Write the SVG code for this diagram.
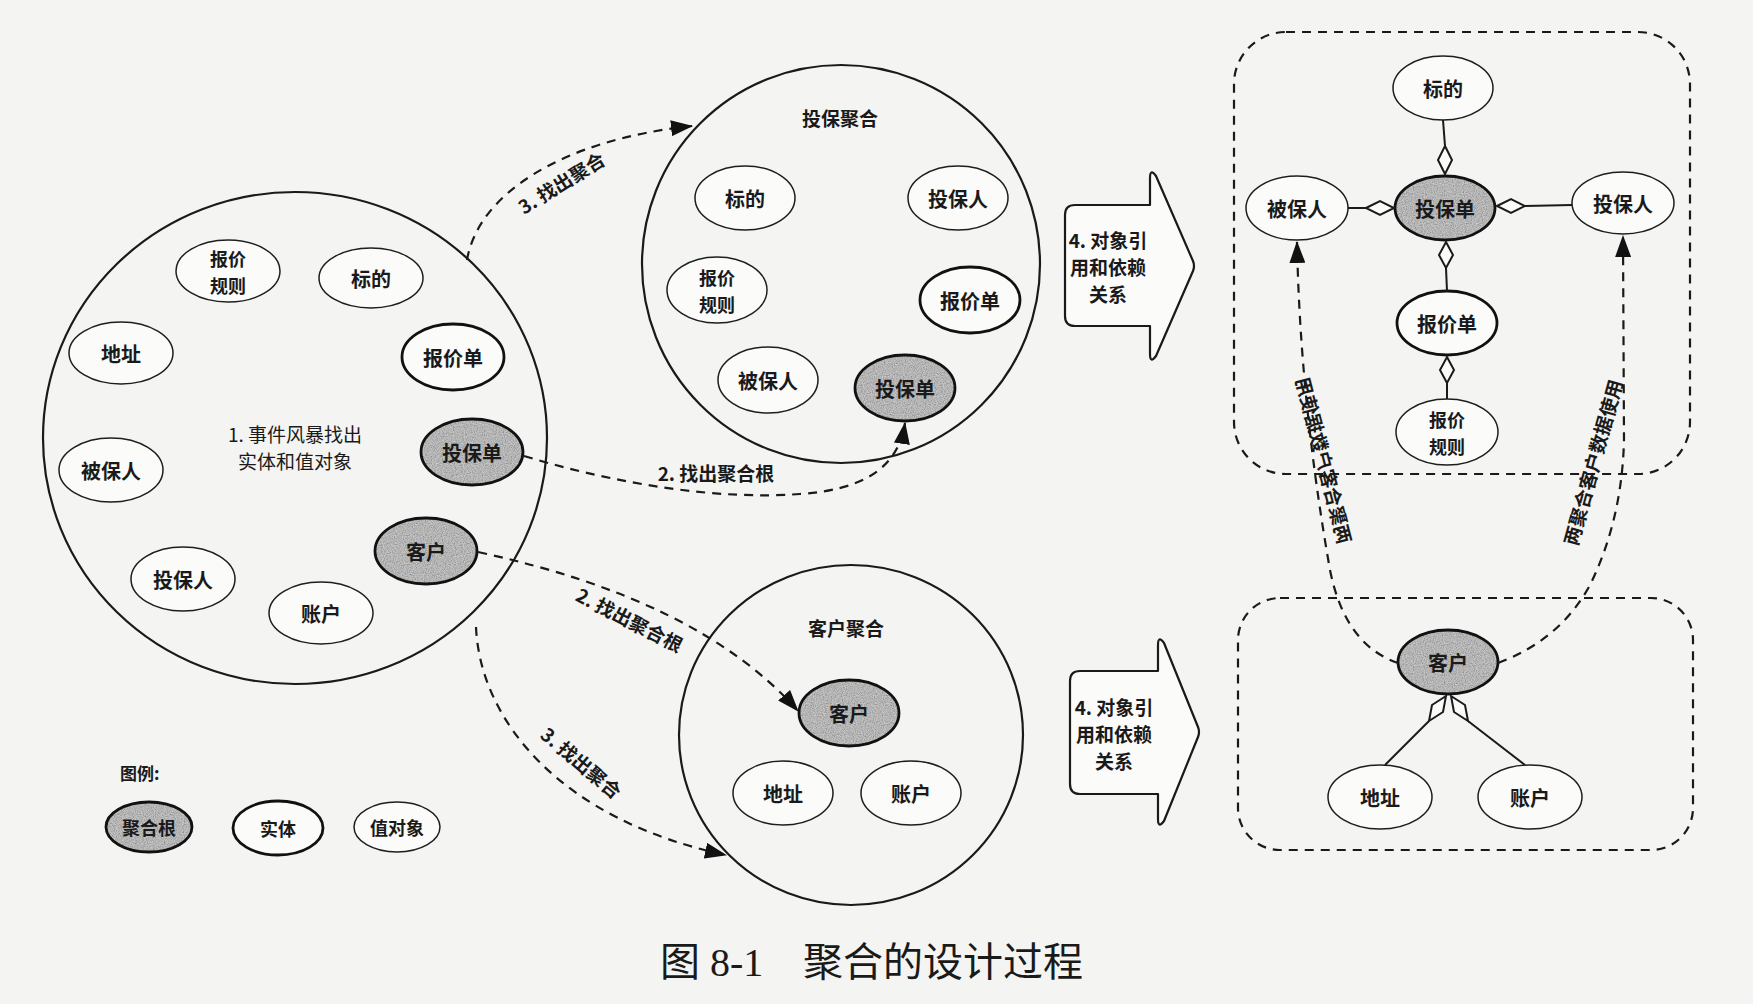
<svg xmlns="http://www.w3.org/2000/svg" width="1753" height="1004" viewBox="0 0 1753 1004">
<style>
text{font-family:"Noto Sans CJK SC","Noto Sans",sans-serif;fill:#1a1a1a;}
.lbl{font-size:20px;font-weight:bold;text-anchor:middle;dominant-baseline:central;}
.two{font-size:18px;font-weight:bold;text-anchor:middle;dominant-baseline:central;}
.cap{font-size:19px;font-weight:bold;text-anchor:middle;dominant-baseline:central;}
.vo{fill:#fbfbfa;stroke:#1e1e1e;stroke-width:1.5;}
.en{fill:#fbfbfa;stroke:#111;stroke-width:2.8;}
.ar{fill:url(#grain);stroke:#111;stroke-width:2.8;}
.big{fill:none;stroke:#1a1a1a;stroke-width:2.2;}
.dash{fill:none;stroke:#1a1a1a;stroke-width:2.2;stroke-dasharray:9 7;}
.solid{fill:none;stroke:#1a1a1a;stroke-width:2;}
.dia{fill:#fbfbfa;stroke:#1a1a1a;stroke-width:2;}
.box{fill:#fbfbfa;stroke:#1a1a1a;stroke-width:2.2;stroke-linejoin:round;}
.title{font-family:"Liberation Serif","Noto Sans CJK SC",serif;font-size:40px;}
</style>
<defs>
<filter id="noise" x="0" y="0" width="100%" height="100%">
<feTurbulence type="fractalNoise" baseFrequency="0.9" numOctaves="2" seed="3"/>
<feColorMatrix type="matrix" values="1 0 0 0 0 1 0 0 0 0 1 0 0 0 0 0 0 0 0 1"/>
</filter>
<pattern id="grain" width="80" height="80" patternUnits="userSpaceOnUse">
<rect width="80" height="80" fill="#aaaaaa"/>
<rect width="80" height="80" filter="url(#noise)" opacity="0.55"/>
</pattern>
<marker id="arr" markerUnits="userSpaceOnUse" markerWidth="22" markerHeight="16" refX="21" refY="8" orient="auto">
<path d="M0,0 L22,8 L0,16 Z" fill="#111"/>
</marker>
</defs>
<rect width="1753" height="1004" fill="#f4f4f2"/>

<!-- big containers -->
<g id="event-storm">
<ellipse class="big" cx="295" cy="438" rx="252" ry="246"/>
<text class="cap" style="font-weight:normal" x="295" y="433">1. 事件风暴找出</text>
<text class="cap" style="font-weight:normal" x="295" y="460">实体和值对象</text>
</g>
<g id="policy-aggregate">
<ellipse class="big" cx="841" cy="264" rx="199" ry="199"/>
<text class="cap" x="840" y="117">投保聚合</text>
</g>
<g id="customer-aggregate">
<ellipse class="big" cx="851" cy="735" rx="172" ry="170"/>
<text class="cap" x="846" y="627">客户聚合</text>
</g>
<g id="policy-box"><rect class="dash" x="1234" y="32" width="456" height="442" rx="52"/></g>
<g id="customer-box"><rect class="dash" x="1238" y="598" width="455" height="252" rx="42"/></g>

<!-- left circle nodes -->
<g id="l-quote-rule"><ellipse class="vo" cx="228" cy="271" rx="52" ry="31"/><text class="two" x="228" y="257.5">报价</text><text class="two" x="228" y="284.5">规则</text></g>
<g id="l-subject"><ellipse class="vo" cx="371" cy="278" rx="52" ry="30"/><text class="lbl" x="371" y="278">标的</text></g>
<g id="l-address"><ellipse class="vo" cx="121" cy="353" rx="52" ry="31"/><text class="lbl" x="121" y="353">地址</text></g>
<g id="l-quote"><ellipse class="en" cx="453" cy="357" rx="51" ry="33"/><text class="lbl" x="453" y="357">报价单</text></g>
<g id="l-policy"><ellipse class="ar" cx="472" cy="452" rx="51" ry="33"/><text class="lbl" x="472" y="452">投保单</text></g>
<g id="l-insured"><ellipse class="vo" cx="111" cy="470" rx="52" ry="32"/><text class="lbl" x="111" y="470">被保人</text></g>
<g id="l-customer"><ellipse class="ar" cx="426" cy="551" rx="51" ry="33"/><text class="lbl" x="426" y="551">客户</text></g>
<g id="l-holder"><ellipse class="vo" cx="183" cy="579" rx="52" ry="32"/><text class="lbl" x="183" y="579">投保人</text></g>
<g id="l-account"><ellipse class="vo" cx="321" cy="613" rx="52" ry="31"/><text class="lbl" x="321" y="613">账户</text></g>

<!-- policy aggregate nodes -->
<g id="p-subject"><ellipse class="vo" cx="745" cy="198" rx="50" ry="32"/><text class="lbl" x="745" y="198">标的</text></g>
<g id="p-holder"><ellipse class="vo" cx="958" cy="198" rx="50" ry="32"/><text class="lbl" x="958" y="198">投保人</text></g>
<g id="p-quote-rule"><ellipse class="vo" cx="717" cy="290" rx="50" ry="33"/><text class="two" x="717" y="276.5">报价</text><text class="two" x="717" y="303.5">规则</text></g>
<g id="p-quote"><ellipse class="en" cx="970" cy="300" rx="50" ry="33"/><text class="lbl" x="970" y="300">报价单</text></g>
<g id="p-insured"><ellipse class="vo" cx="768" cy="380" rx="50" ry="33"/><text class="lbl" x="768" y="380">被保人</text></g>
<g id="p-policy"><ellipse class="ar" cx="905" cy="388" rx="50" ry="33"/><text class="lbl" x="905" y="388">投保单</text></g>

<!-- customer aggregate nodes -->
<g id="c-customer"><ellipse class="ar" cx="849" cy="713" rx="50" ry="33"/><text class="lbl" x="849" y="713">客户</text></g>
<g id="c-address"><ellipse class="vo" cx="783" cy="793" rx="50" ry="32"/><text class="lbl" x="783" y="793">地址</text></g>
<g id="c-account"><ellipse class="vo" cx="911" cy="793" rx="50" ry="32"/><text class="lbl" x="911" y="793">账户</text></g>

<!-- step 4 arrows -->
<g id="step4-top">
<path class="box" d="M1075 205 L1150 205 L1150 178 Q1150 168 1156 176 L1193 261 Q1195 266 1193 271 L1156 356 Q1150 364 1150 354 L1150 326 L1075 326 Q1065 326 1065 316 L1065 215 Q1065 205 1075 205 Z"/>
<text class="cap" x="1108" y="239">4. 对象引</text>
<text class="cap" x="1108" y="266">用和依赖</text>
<text class="cap" x="1108" y="293">关系</text>
</g>
<g id="step4-bottom">
<path class="box" d="M1080 671 L1158 671 L1158 645 Q1158 635 1164 643 L1198 727 Q1200 732 1198 737 L1164 821 Q1158 829 1158 819 L1158 794 L1080 794 Q1070 794 1070 784 L1070 681 Q1070 671 1080 671 Z"/>
<text class="cap" x="1114" y="706">4. 对象引</text>
<text class="cap" x="1114" y="733">用和依赖</text>
<text class="cap" x="1114" y="760">关系</text>
</g>

<!-- right policy model nodes -->
<g id="r-subject"><ellipse class="vo" cx="1443" cy="88" rx="50" ry="32"/><text class="lbl" x="1443" y="88">标的</text></g>
<g id="r-policy"><ellipse class="ar" cx="1445" cy="208" rx="50" ry="32"/><text class="lbl" x="1445" y="208">投保单</text></g>
<g id="r-insured"><ellipse class="vo" cx="1297" cy="208" rx="51" ry="32"/><text class="lbl" x="1297" y="208">被保人</text></g>
<g id="r-holder"><ellipse class="vo" cx="1623" cy="203" rx="51" ry="31"/><text class="lbl" x="1623" y="203">投保人</text></g>
<g id="r-quote"><ellipse class="en" cx="1447" cy="323" rx="50" ry="32"/><text class="lbl" x="1447" y="323">报价单</text></g>
<g id="r-quote-rule"><ellipse class="vo" cx="1447" cy="432" rx="51" ry="33"/><text class="two" x="1447" y="418.5">报价</text><text class="two" x="1447" y="445.5">规则</text></g>

<!-- right customer model nodes -->
<g id="r-customer"><ellipse class="ar" cx="1448" cy="662" rx="50" ry="32"/><text class="lbl" x="1448" y="662">客户</text></g>
<g id="r-address"><ellipse class="vo" cx="1380" cy="797" rx="52" ry="32"/><text class="lbl" x="1380" y="797">地址</text></g>
<g id="r-account"><ellipse class="vo" cx="1530" cy="797" rx="52" ry="32"/><text class="lbl" x="1530" y="797">账户</text></g>

<!-- legend -->
<g id="legend">
<text x="120" y="772" style="font-size:17px;font-weight:bold;dominant-baseline:central">图例:</text>
<ellipse class="ar" cx="149" cy="827" rx="43" ry="25"/><text class="lbl" style="font-size:18px" x="149" y="827">聚合根</text>
<ellipse class="en" cx="278" cy="828" rx="45" ry="27"/><text class="lbl" style="font-size:18px" x="278" y="828">实体</text>
<ellipse class="vo" cx="397" cy="827" rx="43" ry="25"/><text class="lbl" style="font-size:18px" x="397" y="827">值对象</text>
</g>

<!-- connectors -->
<g id="connectors">
<path class="dash" marker-end="url(#arr)" d="M467 260 C478 195 560 140 692 126"/>
<text class="cap" transform="translate(561,182) rotate(-32)">3. 找出聚合</text>
<path class="dash" marker-end="url(#arr)" d="M524 456 C620 485 720 500 800 494 C860 490 898 470 905 423"/>
<text class="cap" x="716" y="472">2. 找出聚合根</text>
<path class="dash" marker-end="url(#arr)" d="M478 552 Q700 600 798 711"/>
<text class="cap" transform="translate(630,619) rotate(27)">2. 找出聚合根</text>
<path class="dash" marker-end="url(#arr)" d="M476 627 C480 720 560 820 726 855"/>
<text class="cap" transform="translate(582,762) rotate(40)">3. 找出聚合</text>

<path class="dash" marker-end="url(#arr)" d="M1398 663 Q1345 645 1330 570 Q1300 400 1297 242"/>
<text class="cap" transform="translate(1325,460) rotate(-104.5) scale(1,-1)">两聚合客户数据使用</text>
<path class="dash" marker-end="url(#arr)" d="M1498 663 Q1560 640 1590 585 Q1622 520 1624 440 L1623 236"/>
<text class="cap" transform="translate(1592,462) rotate(-74.5)">两聚合客户数据使用</text>

<line class="solid" x1="1443" y1="120" x2="1445" y2="146"/>
<polygon class="dia" points="1445,146 1452,160 1445,174 1438,160"/>
<line class="solid" x1="1348" y1="208" x2="1366" y2="208"/>
<polygon class="dia" points="1366,208 1380,201 1394,208 1380,215"/>
<line class="solid" x1="1525" y1="206" x2="1572" y2="205"/>
<polygon class="dia" points="1497,206 1511,199 1525,206 1511,213"/>
<polygon class="dia" points="1446,242 1453,255 1446,268 1439,255"/>
<line class="solid" x1="1446" y1="268" x2="1447" y2="291"/>
<polygon class="dia" points="1447,357 1454,370 1447,383 1440,370"/>
<line class="solid" x1="1447" y1="383" x2="1447" y2="399"/>

<polygon class="dia" points="1446,696 1443,712 1429,721 1432,705"/>
<line class="solid" x1="1429" y1="721" x2="1385" y2="765"/>
<polygon class="dia" points="1451,696 1465,705 1468,721 1454,712"/>
<line class="solid" x1="1468" y1="721" x2="1525" y2="765"/>
</g>

<g id="caption">
<text class="title" x="660" y="976">图 8-1</text>
<text class="title" x="803" y="976">聚合的设计过程</text>
</g>
</svg>
